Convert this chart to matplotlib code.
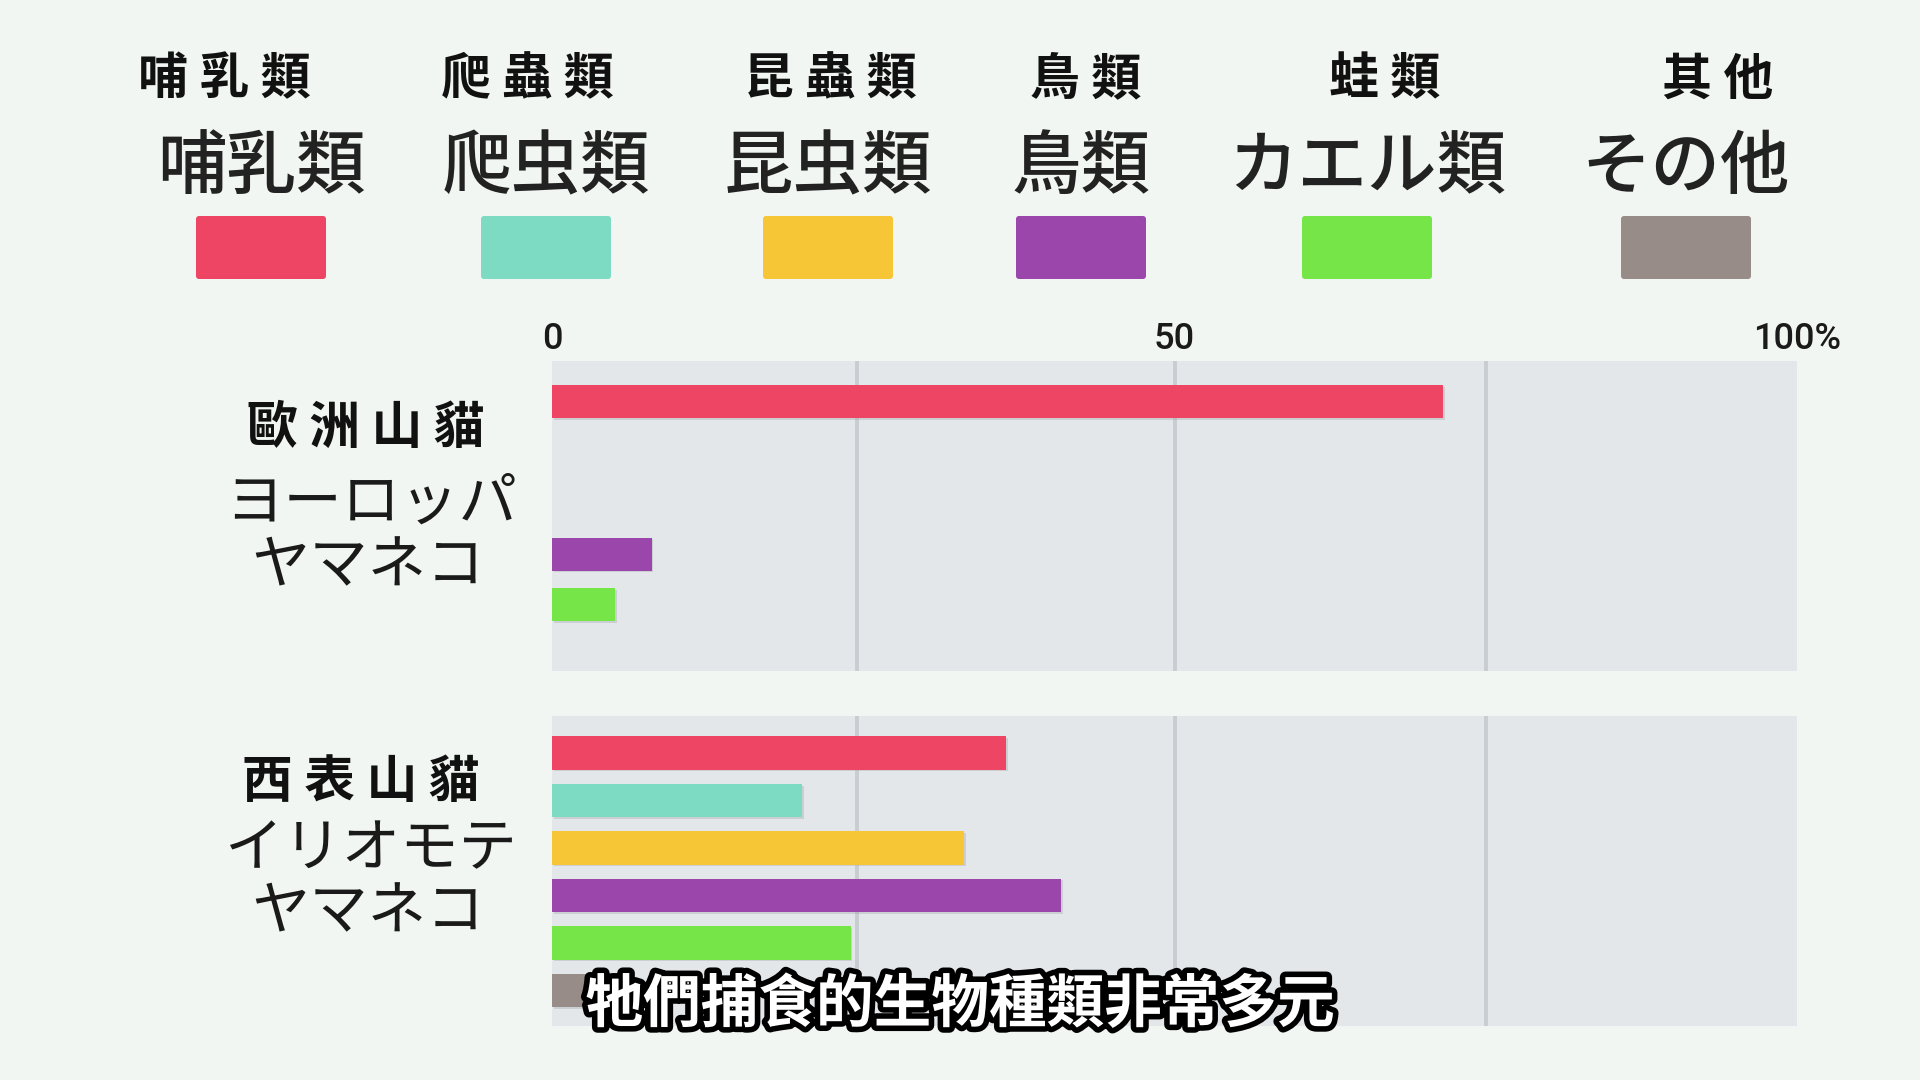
import matplotlib.pyplot as plt
import matplotlib.patheffects as pe
from matplotlib.patches import FancyBboxPatch

# data
cats_zh = ['哺 乳 類', '爬 蟲 類', '昆 蟲 類', '鳥 類', '蛙 類', '其 他']
cats_ja = ['哺乳類', '爬虫類', '昆虫類', '鳥類', 'カエル類', 'その他']
colors = ['#ef4565', '#7ddac3', '#f7c636', '#9b46ab', '#76e547', '#978c87']
europe = [71.6, 0, 0, 8.0, 5.1, 0]
iriomote = [36.5, 20.1, 33.1, 40.9, 24.0, 4.0]
tick_vals = [0, 50, 100]
tick_labels = ['0', '50', '100%']
grid_vals = [24.5, 50, 75]

bg = '#f1f6f2'
panel = '#e3e7ea'
ZH = ['Noto Sans CJK TC', 'DejaVu Sans']
JA = ['Noto Sans CJK JP', 'DejaVu Sans']

fig = plt.figure(figsize=(19.2, 10.8), dpi=100, facecolor=bg)

# overlay in pixel coords for legend and labels
ov = fig.add_axes([0, 0, 1, 1], zorder=0)
ov.set_xlim(0, 1920)
ov.set_ylim(1080, 0)
ov.axis('off')

sw_x = [261, 546, 828, 1081, 1367, 1686]
zh_x = [224, 527, 830, 1086, 1385, 1718]
for i in range(len(cats_ja)):
    ov.text(zh_x[i], 80, cats_zh[i], family=ZH, fontsize=36, fontweight='bold',
            ha='center', va='center', color='#111111')
    ov.text(sw_x[i], 168, cats_ja[i], family=JA, fontsize=50, fontweight='medium',
            ha='center', va='center', color='#222222')
    ov.add_patch(FancyBboxPatch((sw_x[i] - 65, 216), 130, 63,
                                boxstyle='round,pad=0,rounding_size=3',
                                facecolor=colors[i], edgecolor='none'))

# cat names
ov.text(366, 428, '歐 洲 山 貓', family=ZH, fontsize=36.5, fontweight='bold',
        ha='center', va='center', color='#111111')
ov.text(371, 503, 'ヨーロッパ', family=JA, fontsize=42, ha='center', va='center', color='#1a1a1a')
ov.text(368, 567, 'ヤマネコ', family=JA, fontsize=42, ha='center', va='center', color='#1a1a1a')
ov.text(361, 782, '西 表 山 貓', family=ZH, fontsize=36.5, fontweight='bold',
        ha='center', va='center', color='#111111')
ov.text(371, 850, 'イリオモテ', family=JA, fontsize=42, ha='center', va='center', color='#1a1a1a')
ov.text(368, 913, 'ヤマネコ', family=JA, fontsize=42, ha='center', va='center', color='#1a1a1a')

slots = list(range(len(cats_ja)))
shadow = [pe.SimplePatchShadow(offset=(1.2, -1.2), shadow_rgbFace='#999999', alpha=0.3), pe.Normal()]


def draw_panel(rect, values, ylim, bar_h, show_ticks):
    ax = fig.add_axes(rect, zorder=1)
    ax.set_facecolor(panel)
    ax.set_xlim(0, 100)
    ax.set_ylim(*ylim)
    for g in grid_vals:
        ax.axvline(g, color='#c8cdd2', lw=2.8, zorder=1)
    bars = ax.barh(slots, values, height=bar_h, color=colors, zorder=2)
    for b in bars:
        b.set_path_effects(shadow)
    for s in ax.spines.values():
        s.set_visible(False)
    ax.set_yticks([])
    if show_ticks:
        ax.xaxis.tick_top()
        ax.set_xticks(tick_vals)
        ax.set_xticklabels(tick_labels, family=['Roboto', 'DejaVu Sans'],
                           fontweight='medium', fontsize=26, color='#1a1a1a')
        ax.tick_params(axis='x', length=0, pad=3)
    else:
        ax.set_xticks([])
    return ax


draw_panel([552 / 1920, 1 - 671 / 1080, 1245 / 1920, 310 / 1080], europe,
           (5.3, -0.8), 0.65, True)
draw_panel([552 / 1920, 1 - 1026 / 1080, 1245 / 1920, 310 / 1080], iriomote,
           (5.75, -0.78), 0.7, False)

# subtitle
sub = fig.text(0.5, 1 - 1005 / 1080, '牠們捕食的生物種類非常多元', family=ZH, fontsize=41.5,
               fontweight='bold', color='white', ha='center', va='center', zorder=5)
sub.set_path_effects([pe.Stroke(linewidth=8, foreground='black'), pe.Normal()])

fig.savefig('out.png', dpi=100, facecolor=bg)
